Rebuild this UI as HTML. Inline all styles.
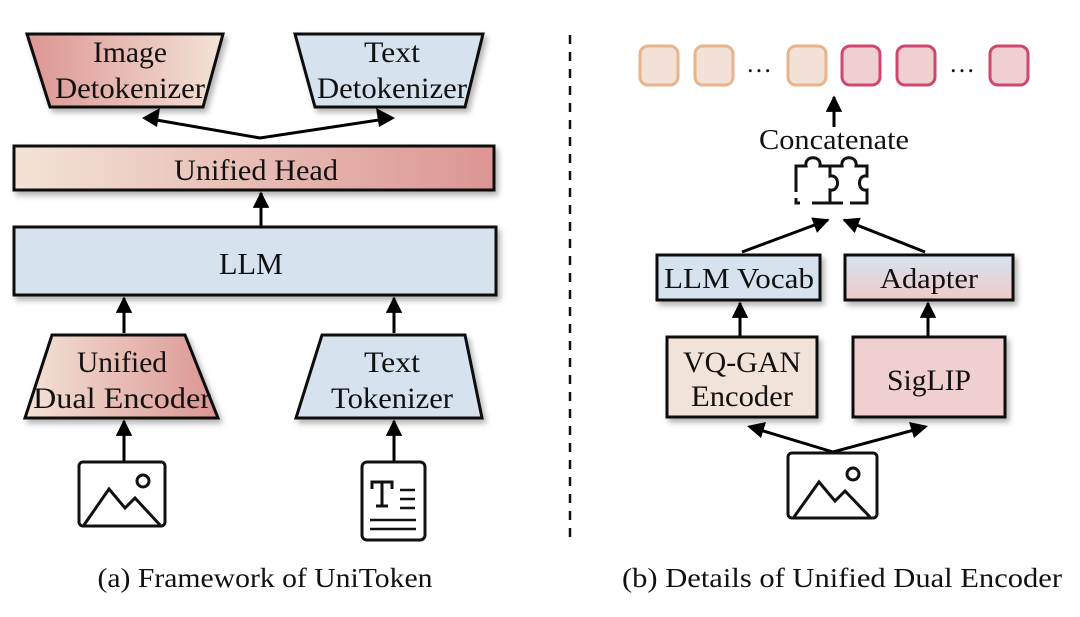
<!DOCTYPE html>
<html><head><meta charset="utf-8"><style>
html,body{margin:0;padding:0;background:#fff;}
svg{display:block;}
text{font-family:"Liberation Serif","Times New Roman",serif;fill:#111;}
</style></head><body>
<svg width="1080" height="617" viewBox="0 0 1080 617" xmlns="http://www.w3.org/2000/svg" font-family="Liberation Serif, serif">
<defs>
<linearGradient id="rl" x1="0" x2="1" y1="0" y2="0"><stop offset="0" stop-color="#dc9593"/><stop offset="1" stop-color="#f3e3d6"/></linearGradient>
<linearGradient id="lr" x1="0" x2="1" y1="0" y2="0"><stop offset="0" stop-color="#f3e3d6"/><stop offset="1" stop-color="#dc9593"/></linearGradient>
<linearGradient id="ad" x1="0" x2="0" y1="0" y2="1"><stop offset="0" stop-color="#d6e3ef"/><stop offset="1" stop-color="#efc9c9"/></linearGradient>
<marker id="ah" viewBox="0 0 10 10" refX="9" refY="5" markerWidth="5.5" markerHeight="5.5" orient="auto" markerUnits="strokeWidth"><path d="M0,0 L10,5 L0,10 z" fill="#000"/></marker>
<filter id="sh" x="-10%" y="-10%" width="125%" height="140%"><feDropShadow dx="3" dy="4" stdDeviation="3" flood-color="#000" flood-opacity="0.3"/></filter>
</defs>

<!-- LEFT -->
<polygon points="27,34 223,34 203,107 50,107" fill="url(#rl)" stroke="#111" stroke-width="3" filter="url(#sh)"/>
<text x="130" y="62" font-size="30" text-anchor="middle" textLength="74" lengthAdjust="spacingAndGlyphs">Image</text>
<text x="130" y="98" font-size="30" text-anchor="middle" textLength="150" lengthAdjust="spacingAndGlyphs">Detokenizer</text>
<polygon points="295,34 483,34 465,107 315,107" fill="#d6e3ef" stroke="#111" stroke-width="3" filter="url(#sh)"/>
<text x="392" y="62" font-size="30" text-anchor="middle" textLength="56" lengthAdjust="spacingAndGlyphs">Text</text>
<text x="392" y="98" font-size="30" text-anchor="middle" textLength="150" lengthAdjust="spacingAndGlyphs">Detokenizer</text>

<polyline points="145,118 260,138 392,118" fill="none" stroke="#000" stroke-width="3" stroke-linejoin="miter"/>
<path d="M142,118 L160,108 L157,127 z" fill="#000"/>
<path d="M395,118 L376,108 L379,127 z" fill="#000"/>

<rect x="14" y="146" width="480" height="44" fill="url(#lr)" stroke="#111" stroke-width="3" filter="url(#sh)"/>
<text x="256" y="180" font-size="30" text-anchor="middle" textLength="164" lengthAdjust="spacingAndGlyphs">Unified Head</text>
<line x1="261" y1="226" x2="261" y2="193" stroke="#000" stroke-width="3" marker-end="url(#ah)"/>

<rect x="14" y="227" width="482" height="68" fill="#d6e3ef" stroke="#111" stroke-width="3" filter="url(#sh)"/>
<text x="251" y="274" font-size="31" text-anchor="middle" textLength="64" lengthAdjust="spacingAndGlyphs">LLM</text>
<line x1="124" y1="333" x2="124" y2="298" stroke="#000" stroke-width="3" marker-end="url(#ah)"/>
<line x1="394" y1="333" x2="394" y2="298" stroke="#000" stroke-width="3" marker-end="url(#ah)"/>

<polygon points="52,335 185,335 218,418 25,418" fill="url(#lr)" stroke="#111" stroke-width="3" filter="url(#sh)"/>
<text x="122" y="372" font-size="30" text-anchor="middle" textLength="90" lengthAdjust="spacingAndGlyphs">Unified</text>
<text x="122" y="408" font-size="30" text-anchor="middle" textLength="178" lengthAdjust="spacingAndGlyphs">Dual Encoder</text>
<polygon points="322,335 465,335 482,418 296,418" fill="#d6e3ef" stroke="#111" stroke-width="3" filter="url(#sh)"/>
<text x="392" y="372" font-size="30" text-anchor="middle" textLength="56" lengthAdjust="spacingAndGlyphs">Text</text>
<text x="392" y="408" font-size="30" text-anchor="middle" textLength="122" lengthAdjust="spacingAndGlyphs">Tokenizer</text>

<line x1="124" y1="462" x2="124" y2="421" stroke="#000" stroke-width="3" marker-end="url(#ah)"/>
<line x1="394" y1="462" x2="394" y2="421" stroke="#000" stroke-width="3" marker-end="url(#ah)"/>

<rect x="79" y="462" width="86" height="64" rx="4" fill="#fff" stroke="#111" stroke-width="3"/>
<polyline points="84,525 109,489 125,508 135,498 160,525" fill="none" stroke="#111" stroke-width="3"/>
<circle cx="143" cy="481" r="6" fill="none" stroke="#111" stroke-width="3"/>
<rect x="362" y="462" width="63" height="78" rx="5" fill="#fff" stroke="#111" stroke-width="3"/>
<path d="M372,489 V482 H392 V489 M382,482 V506 M376,506 H388" fill="none" stroke="#111" stroke-width="3"/>
<path d="M400,490 H415 M400,499 H415 M400,508 H415 M370,520 H416 M370,529 H416" stroke="#111" stroke-width="2.5"/>

<text x="265" y="587" font-size="27" text-anchor="middle" textLength="335" lengthAdjust="spacingAndGlyphs">(a) Framework of UniToken</text>

<line x1="570" y1="35" x2="570" y2="542" stroke="#111" stroke-width="2.5" stroke-dasharray="9,8"/>

<!-- RIGHT -->
<g stroke-width="3">
<rect x="640" y="46" width="38" height="39" rx="8" fill="#f1e1d6" stroke="#e8b48b"/>
<rect x="695" y="46" width="38" height="39" rx="8" fill="#f1e1d6" stroke="#e8b48b"/>
<rect x="788" y="46" width="38" height="39" rx="8" fill="#f1e1d6" stroke="#e8b48b"/>
<rect x="842" y="46" width="38" height="39" rx="8" fill="#f0cfd1" stroke="#d0476e"/>
<rect x="897" y="46" width="38" height="39" rx="8" fill="#f0cfd1" stroke="#d0476e"/>
<rect x="990" y="46" width="38" height="39" rx="8" fill="#f0cfd1" stroke="#d0476e"/>
</g>
<text x="759" y="72" font-size="26" text-anchor="middle">…</text>
<text x="962" y="72" font-size="26" text-anchor="middle">…</text>

<line x1="834" y1="127" x2="834" y2="97" stroke="#000" stroke-width="3" marker-end="url(#ah)"/>
<text x="834" y="149" font-size="29" text-anchor="middle" textLength="150" lengthAdjust="spacingAndGlyphs">Concatenate</text>

<g fill="none" stroke="#111" stroke-width="3">
<path d="M796,192 V166 H806 C804,155 822,155 820,166 H830 V176 C840,174 840,192 830,190 V203 H812 M800,203 H796 V198"/>
<path d="M830,166 H842 C840,155 858,155 856,166 H867 V176 C857,174 857,192 867,190 V203 H850 M843,203 H830"/>
</g>

<line x1="742" y1="252" x2="828" y2="220" stroke="#000" stroke-width="3" marker-end="url(#ah)"/>
<line x1="925" y1="252" x2="844" y2="220" stroke="#000" stroke-width="3" marker-end="url(#ah)"/>

<rect x="657" y="255" width="163" height="45" fill="#d6e3ef" stroke="#111" stroke-width="3" filter="url(#sh)"/>
<text x="739" y="288" font-size="29" text-anchor="middle" textLength="150" lengthAdjust="spacingAndGlyphs">LLM Vocab</text>
<rect x="845" y="255" width="168" height="45" fill="url(#ad)" stroke="#111" stroke-width="3" filter="url(#sh)"/>
<text x="929" y="288" font-size="29" text-anchor="middle" textLength="98" lengthAdjust="spacingAndGlyphs">Adapter</text>

<line x1="740" y1="336" x2="740" y2="303" stroke="#000" stroke-width="3" marker-end="url(#ah)"/>
<line x1="928" y1="336" x2="928" y2="303" stroke="#000" stroke-width="3" marker-end="url(#ah)"/>

<rect x="667" y="337" width="150" height="80" fill="#f2e3d8" stroke="#111" stroke-width="3" filter="url(#sh)"/>
<text x="742" y="372" font-size="30" text-anchor="middle" textLength="118" lengthAdjust="spacingAndGlyphs">VQ-GAN</text>
<text x="742" y="406" font-size="30" text-anchor="middle" textLength="102" lengthAdjust="spacingAndGlyphs">Encoder</text>
<rect x="853" y="337" width="152" height="80" fill="#efcfcf" stroke="#111" stroke-width="3" filter="url(#sh)"/>
<text x="929" y="390" font-size="30" text-anchor="middle" textLength="84" lengthAdjust="spacingAndGlyphs">SigLIP</text>

<polyline points="750,427 833,452 925,427" fill="none" stroke="#000" stroke-width="3"/>
<path d="M747,426 L766,422 L761,438 z" fill="#000"/>
<path d="M928,426 L909,422 L914,438 z" fill="#000"/>

<rect x="788" y="453" width="89" height="65" rx="4" fill="#fff" stroke="#111" stroke-width="3"/>
<polyline points="794,517 819,482 835,501 845,491 870,517" fill="none" stroke="#111" stroke-width="3"/>
<circle cx="853" cy="474" r="6" fill="none" stroke="#111" stroke-width="3"/>

<text x="842" y="587" font-size="27" text-anchor="middle" textLength="440" lengthAdjust="spacingAndGlyphs">(b) Details of Unified Dual Encoder</text>
</svg>
</body></html>
